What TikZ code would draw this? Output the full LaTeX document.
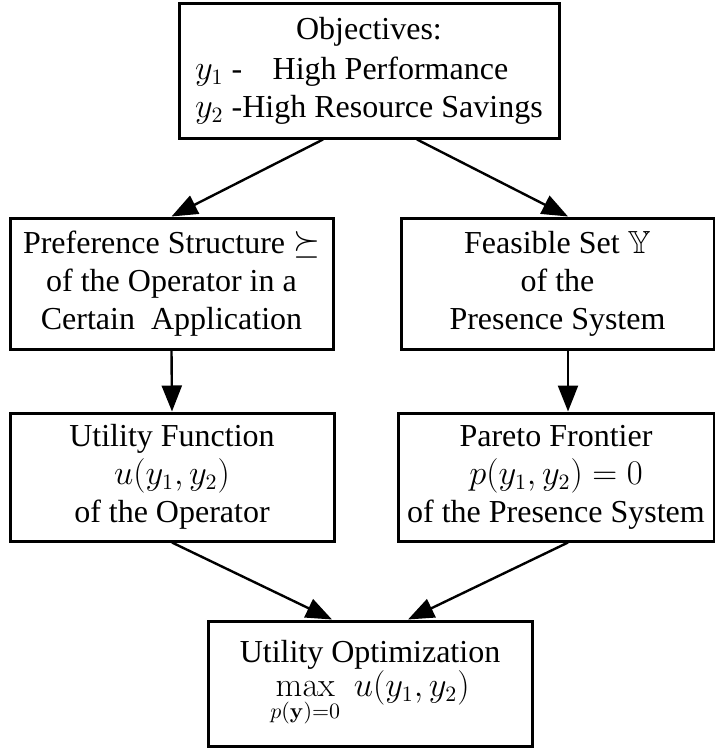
\documentclass[tikz,border=0pt]{standalone}
\usepackage[no-math]{fontspec}
\setmainfont{Liberation Serif}
\usepackage{amssymb}
\usepackage{calc}
\usetikzlibrary{arrows.meta}

\tikzset{
  box/.style={draw, line width=1.5pt, rectangle, align=center, inner sep=0pt,
              font=\fontsize{16}{19}\selectfont},
  arr/.style={-{Triangle[length=13pt,width=10pt]}, line width=1.2pt},
}

\begin{document}
\begin{tikzpicture}[x=0.5pt,y=-0.5pt]
  \useasboundingbox (0,0) rectangle (715,749);

  % top: the two objectives
  \node[box, minimum width=190pt, minimum height=67pt] (obj) at (369,71)
    {Objectives:\\[1pt]
     \makebox[\widthof{$y_2$ -High Resource Savings}][l]{$y_1$ -\hspace{0.95em}High Performance}\\
     $y_2$ -High Resource Savings};

  % second row
  \node[box, minimum width=161.5pt, minimum height=65.5pt] (pref) at (171.5,283.5)
    {Preference Structure $\succeq$\\ of the Operator in a\\ Certain\ \ Application};
  \node[box, minimum width=156.5pt, minimum height=65.5pt] (feas) at (557.5,283.5)
    {Feasible Set $\mathbb{Y}$\\ of the\\ Presence System};

  % third row
  \node[box, minimum width=162pt, minimum height=64pt] (util) at (172,477)
    {Utility Function\\ $u(y_1,y_2)$\\ of the Operator};
  \node[box, minimum width=158pt, minimum height=64pt] (pareto) at (556,477)
    {Pareto Frontier\\ $p(y_1,y_2)=0$\\ of the Presence System};

  % bottom: the optimization
  \node[box, minimum width=162pt, minimum height=62.5pt] (opt) at (370,683.5)
    {Utility Optimization\\[-2pt] $\displaystyle\max_{p(\mathbf{y})=0}\ u(y_1,y_2)$};

  % connectors
  \draw[arr] ([xshift=-23pt]obj.south) -- (pref.north);
  \draw[arr] ([xshift=24pt]obj.south) -- ([xshift=5.25pt]feas.north);
  \draw[arr] (pref.south) -- (util.north);
  \draw[arr] ([xshift=5.25pt]feas.south) -- ([xshift=6pt]pareto.north);
  \draw[arr] (util.south) -- ([xshift=-19pt]opt.north);
  \draw[arr] ([xshift=6pt]pareto.south) -- ([xshift=19pt]opt.north);
\end{tikzpicture}
\end{document}
